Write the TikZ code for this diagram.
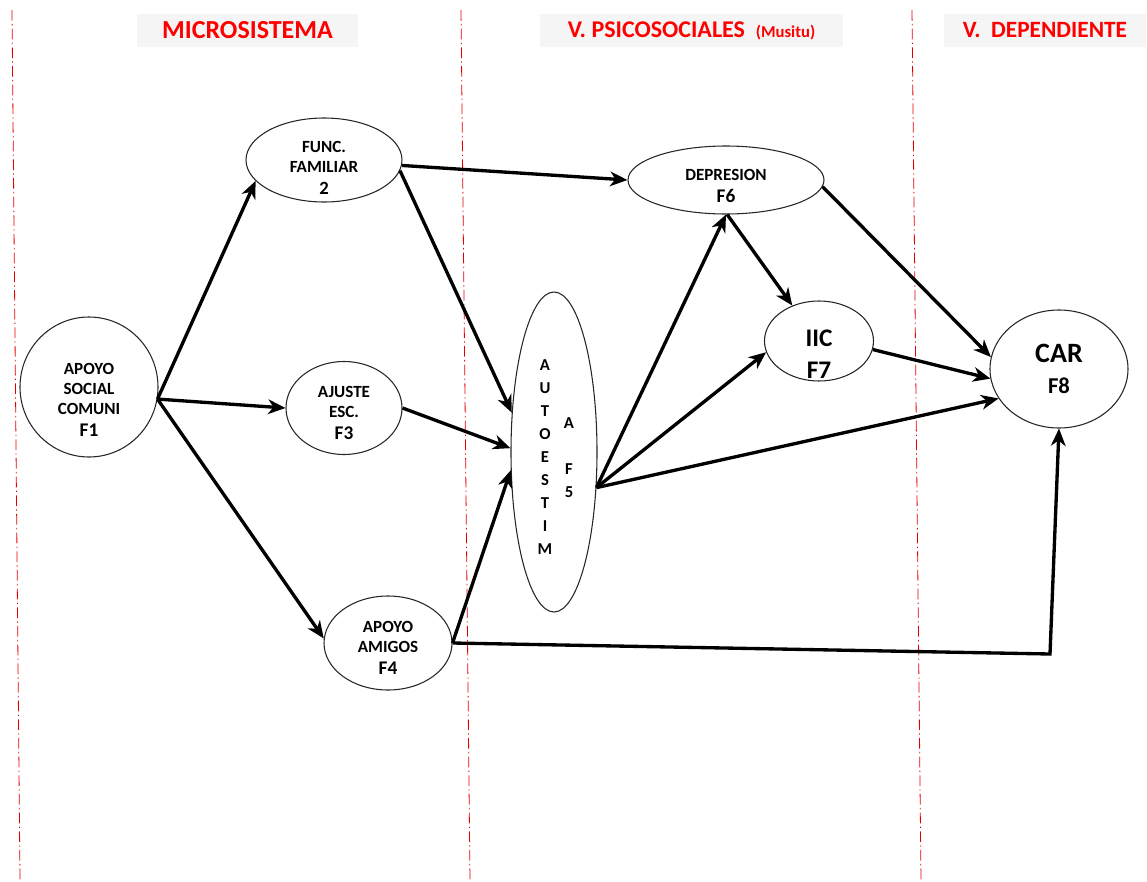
\documentclass[tikz,border=0pt]{standalone}
\usepackage{fontspec}
\setmainfont{Carlito}
\usetikzlibrary{arrows.meta,shapes.geometric}
\begin{document}
\begin{tikzpicture}[x=0.75pt,y=-0.75pt,
  factor/.style={ellipse, draw=black!85, line width=0.8pt, inner sep=0pt},
  ftext/.style={align=center, font=\bfseries\fontsize{12.8}{15}\selectfont, inner sep=0pt},
  link/.style={line width=2.5pt, -{Stealth[length=13pt,width=11pt,inset=4pt]}},
  divider/.style={red!90!black, line width=0.6pt, dash pattern=on 8pt off 2.5pt on 1pt off 2.5pt},
  header/.style={fill=black!4, text=red, font=\bfseries\fontsize{18}{20}\selectfont,
                 minimum height=24.75pt, inner sep=0pt}]

\useasboundingbox (0,0) rectangle (1147,882);

% column dividers
\draw[divider] (12,10) -- (20,880);
\draw[divider] (461,10) -- (470,880);
\draw[divider] (912,10) -- (921,880);

% column headers
\node[header, minimum width=165.75pt, font=\bfseries\fontsize{19.5}{21}\selectfont] (hmicro) at (247.5,30.5) {MICROSISTEMA};
\node[header, minimum width=227.25pt] (hpsico) at (691.5,30.5)
  {V. PSICOSOCIALES\ \ {\fontsize{12.5}{14}\selectfont(Musitu)}};
\node[header, minimum width=151.5pt, font=\bfseries\fontsize{17.5}{20}\selectfont] (hdep) at (1045,30.5) {V.\ \ DEPENDIENTE};

% factors
\node[factor, minimum width=103.5pt, minimum height=105pt] (F1) at (89,387) {};
\node[ftext] (F1t) at (89,400) {APOYO\\SOCIAL\\COMUNI\\[2pt]{\fontsize{14.5}{17}\selectfont F1}};

\node[factor, minimum width=117pt, minimum height=63pt] (F2) at (324,160) {};
\node[ftext] (F2t) at (324,168) {FUNC.\\FAMILIAR\\[1pt]{\fontsize{14}{17}\selectfont 2}};

\node[factor, minimum width=87pt, minimum height=69.75pt] (F3) at (344,408) {};
\node[ftext] (F3t) at (344,413) {AJUSTE\\ESC.\\[2pt]{\fontsize{14.5}{17}\selectfont F3}};

\node[factor, minimum width=96pt, minimum height=70.5pt] (F4) at (388,643) {};
\node[ftext] (F4t) at (388,648) {APOYO\\AMIGOS\\[2pt]{\fontsize{14.5}{17}\selectfont F4}};

\node[factor, minimum width=64.5pt, minimum height=240pt] (F5) at (554,452) {};
\node[ftext, font=\bfseries\fontsize{12.5}{17.3}\selectfont] (F5a) at (545,457)
  {A\\U\\T\\O\\E\\S\\T\\I\\M};
\node[ftext, font=\bfseries\fontsize{12.5}{17.3}\selectfont] (F5b) at (569,458)
  {A\\[17.3pt]F\\5};

\node[factor, minimum width=147pt, minimum height=51pt] (F6) at (726,180) {};
\node[ftext] (F6t) at (726,186) {DEPRESION\\[2pt]{\fontsize{14.5}{17}\selectfont F6}};

\node[factor, minimum width=81.75pt, minimum height=60pt] (F7) at (819,341) {};
\node[ftext, font=\bfseries\fontsize{19}{24}\selectfont] (F7t) at (819,354) {IIC\\F7};

\node[factor, minimum width=103.5pt, minimum height=88.5pt] (F8) at (1059,369) {};
\node[ftext, font=\bfseries\fontsize{21}{23}\selectfont] (F8t) at (1059,369)
  {CAR\\{\fontsize{17}{20}\selectfont F8}};

\coordinate (bend) at (1050,654);

% paths
\draw[link] (F1.-10) -- (F2.197);
\draw[link] (F1.-10) -- (F3.west);
\draw[link] (F1.-10) -- (F4.176);
\draw[link] (F2.-4) -- (F6.west);
\draw[link] (F2.-8) -- (F5.137);
\draw[link] (F3.east) -- (F5.175);
\draw[link] (F4.east) -- (F5.203);
\draw[link] (F4.east) -- (bend) -- (F8.south);
\draw[link] (F5.-40) -- (F6.south);
\draw[link] (F5.-40) -- (F7.192);
\draw[link] (F5.-40) -- (F8.206);
\draw[link] (F6.-88) -- (F7.127);
\draw[link] (F6.-4) -- (F8.170);
\draw[link] (F7.-9) -- (F8.188);
\end{tikzpicture}
\end{document}
